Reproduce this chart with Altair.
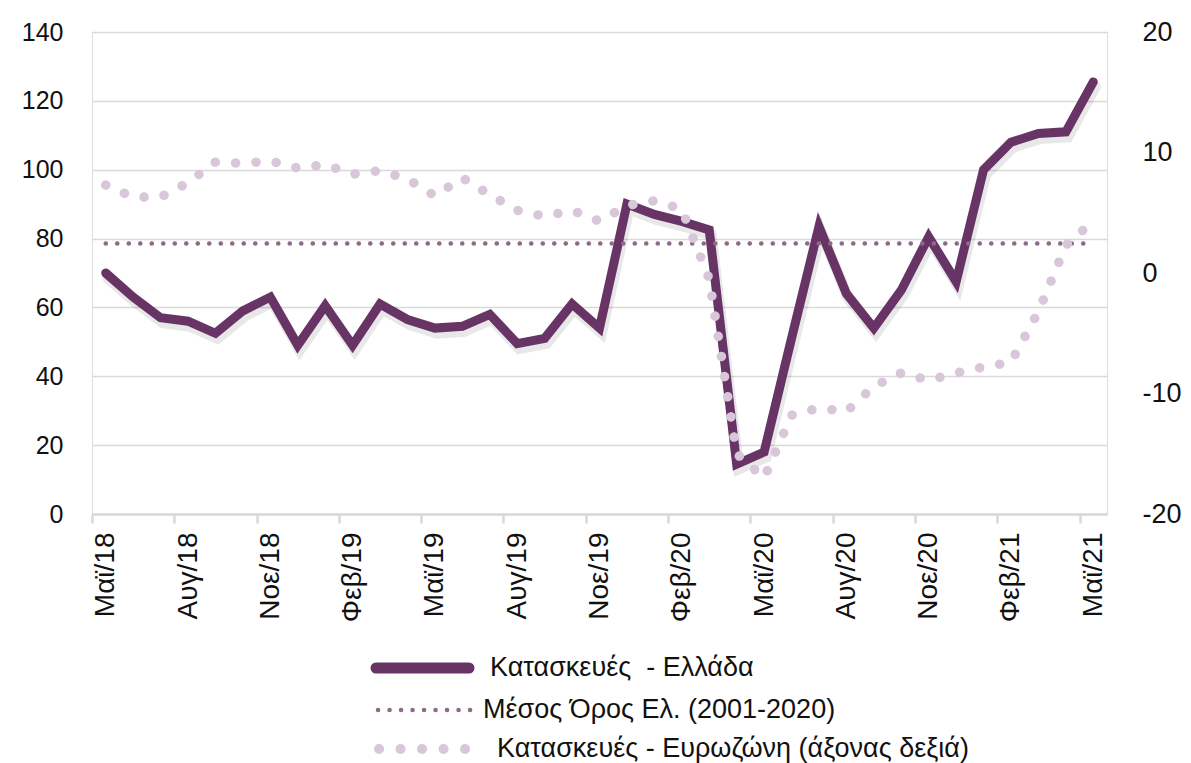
import altair as alt
import pandas as pd

months = ["Μαϊ/18", "Ιουν/18", "Ιουλ/18", "Αυγ/18", "Σεπ/18", "Οκτ/18", "Νοε/18", "Δεκ/18",
          "Ιαν/19", "Φεβ/19", "Μαρ/19", "Απρ/19", "Μαϊ/19", "Ιουν/19", "Ιουλ/19", "Αυγ/19",
          "Σεπ/19", "Οκτ/19", "Νοε/19", "Δεκ/19",
          "Ιαν/20", "Φεβ/20", "Μαρ/20", "Απρ/20", "Μαϊ/20", "Ιουν/20", "Ιουλ/20", "Αυγ/20",
          "Σεπ/20", "Οκτ/20", "Νοε/20", "Δεκ/20",
          "Ιαν/21", "Φεβ/21", "Μαρ/21", "Απρ/21", "Μαϊ/21"]

greece = [70, 63, 57, 56, 52.5, 59, 63, 49,
          60.5, 49, 61, 56.5, 54, 54.5, 58, 49.5, 51, 61, 54, 90,
          87, 85, 82.5, 14.5, 18, 51, 83.5, 64, 54, 65, 80.5, 67.5,
          100, 108, 110.5, 111, 125.5]

eurozone = [7.3, 6.3, 6.3, 7.5, 9.2, 9.1, 9.3, 8.7,
            9.0, 8.2, 8.5, 7.8, 6.4, 7.9, 6.5, 5.2, 4.7, 5.2, 4.3, 5.6,
            6.0, 5.3, -0.5, -15.0, -17.0, -11.8, -11.2, -11.5, -9.4, -8.3, -8.9, -8.3,
            -7.8, -7.4, -3.2, 2.3, 4.3]

mean_greece = 78.6

left_ticks = [0, 20, 40, 60, 80, 100, 120, 140]
right_ticks = [-20, -10, 0, 10, 20]

legend_labels = ["Κατασκευές\u00a0 - Ελλάδα", "Μέσος Όρος Ελ. (2001-2020)",
                 "Κατασκευές - Ευρωζώνη (άξονας δεξιά)"]

C_GR = "#673465"
C_MEAN = "#8C6A8A"
C_EU = "#D7C7D8"
GRID = "#D9D9D9"
FONT = "Liberation Sans"
TXT = "#111111"

df = pd.DataFrame({"month": months, "greece": greece, "euro": eurozone,
                   "mean": [mean_greece] * len(months)})

W, H = 1015, 482
half_band = W / len(months) / 2

xenc = alt.X("month:O", sort=months, bandPosition=0.5,
             scale=alt.Scale(type="band", paddingInner=0, paddingOuter=0),
             axis=alt.Axis(values=months[::3], labelAngle=-90,
                           tickOffset=-half_band, labelOffset=half_band,
                           labelFont=FONT, labelFontSize=28, labelColor=TXT,
                           labelPadding=9, tickSize=9, tickWidth=2.5, tickColor=GRID,
                           domainColor=GRID, domainWidth=2.5, grid=False, title=None))

left_axis = alt.Axis(values=left_ticks, grid=True, gridColor=GRID, gridWidth=1.6,
                     domain=False, ticks=False, labelFont=FONT, labelFontSize=25,
                     labelColor=TXT, labelPadding=29, title=None)
left_scale = alt.Scale(domain=[0, 140], nice=False)

base = alt.Chart(df)

gr_shadow = base.mark_line(color="#000000", opacity=0.09, strokeWidth=11, strokeCap="round",
                           xOffset=2, yOffset=5).encode(
    x=xenc, y=alt.Y("greece:Q", scale=left_scale, axis=left_axis, title=None))
gr_line = base.mark_line(color=C_GR, strokeWidth=9, strokeCap="round").encode(
    x=xenc, y=alt.Y("greece:Q", scale=left_scale, axis=left_axis, title=None))
mean_line = base.mark_line(color=C_MEAN, strokeWidth=4.5, strokeCap="round",
                           strokeDash=[0.1, 11.4]).encode(
    x=xenc, y=alt.Y("mean:Q", scale=left_scale, axis=left_axis, title=None))
left = alt.layer(gr_shadow, gr_line, mean_line)

eu_line = base.mark_line(color=C_EU, strokeWidth=9.5, strokeCap="round",
                         strokeDash=[0.1, 20.3]).encode(
    x=xenc,
    y=alt.Y("euro:Q", scale=alt.Scale(domain=[-20, 20], nice=False),
            axis=alt.Axis(values=right_ticks, orient="right", grid=False, domain=False,
                          ticks=False, labelFont=FONT, labelFontSize=27, labelAlign="left",
                          labelExpr="'' + datum.value",
                          labelColor=TXT, labelPadding=35, title=None),
            title=None),
)

one = alt.Data(values=[{"k": 1}])
leg_y = [636, 678, 717]
leg1 = alt.Chart(one).mark_rule(color=C_GR, strokeWidth=11, strokeCap="round").encode(
    x=alt.value(284), x2=alt.value(377), y=alt.value(leg_y[0]))
leg2 = alt.Chart(one).mark_rule(color=C_MEAN, strokeWidth=4.5, strokeCap="round",
                                strokeDash=[0.1, 11.4]).encode(
    x=alt.value(286), x2=alt.value(384), y=alt.value(leg_y[1]))
leg3 = alt.Chart(one).mark_rule(color=C_EU, strokeWidth=10, strokeCap="round",
                                strokeDash=[0.1, 21.4]).encode(
    x=alt.value(287), x2=alt.value(375), y=alt.value(leg_y[2]))
txt_x = [398, 391, 405]
texts = [alt.Chart(one).mark_text(text=legend_labels[i], align="left", baseline="middle",
                                  font=FONT, fontSize=27, color=TXT).encode(
    x=alt.value(txt_x[i]), y=alt.value(leg_y[i])) for i in range(3)]

chart = alt.layer(left, eu_line, leg1, leg2, leg3, *texts).resolve_scale(
    y="independent"
).properties(
    width=W, height=H,
    autosize=alt.AutoSizeParams(type="none"),
    padding={"left": 84, "top": 24, "right": 76, "bottom": 249},
).configure_view(stroke=None).configure(background="white")

chart.save("out.html", embed_options={"renderer": "svg", "actions": False})
